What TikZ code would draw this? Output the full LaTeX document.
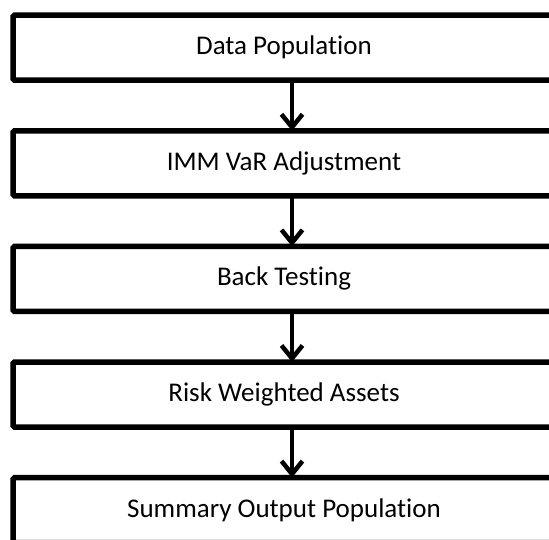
\documentclass[tikz,border=0pt]{standalone}
\usepackage{fontspec}
\setmainfont{Carlito}[Ligatures=NoCommon]
\usetikzlibrary{positioning,arrows.meta}

\begin{document}
\begin{tikzpicture}[x=1pt,y=1pt,
  stage/.style={draw, line width=5.5pt, rounded corners=1.5pt, minimum width=542pt, minimum height=65pt, inner sep=0pt, outer sep=0pt, font=\fontsize{27}{32}\selectfont},
  flow/.style={line width=4.5pt, -{Straight Barb[length=13pt,width=21pt]}},
  node distance=50.6pt]
\useasboundingbox (0,0) rectangle (549,540);
\clip (0,0) rectangle (549,540);

\node[stage] (data) at (284,492.25) {Data Population};
\node[stage, below=of data] (imm) {IMM VaR Adjustment};
\node[stage, below=of imm] (back) {Back Testing};
\node[stage, below=of back] (rwa) {Risk Weighted Assets};
\node[stage, below=of rwa] (summary) {Summary Output Population};

\draw[flow] ([xshift=8pt]data.south) -- ([xshift=8pt]imm.north);
\draw[flow] ([xshift=8pt]imm.south) -- ([xshift=8pt]back.north);
\draw[flow] ([xshift=8pt]back.south) -- ([xshift=8pt]rwa.north);
\draw[flow] ([xshift=8pt]rwa.south) -- ([xshift=8pt]summary.north);

\end{tikzpicture}
\end{document}
